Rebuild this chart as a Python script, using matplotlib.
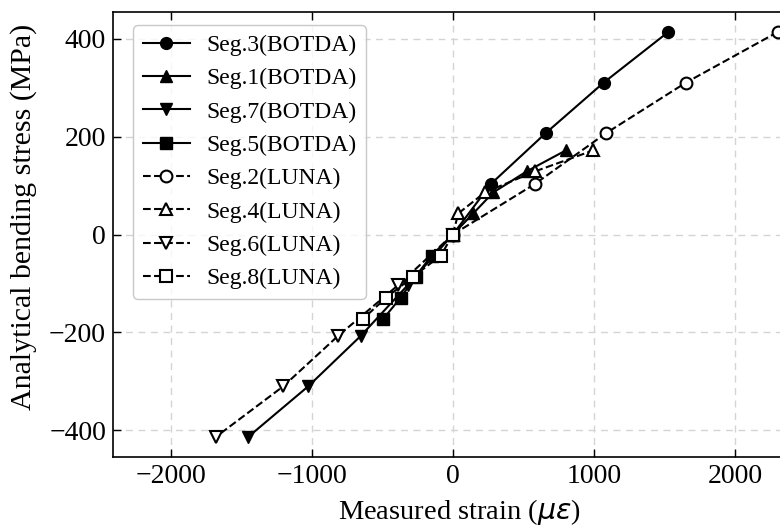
import matplotlib
matplotlib.use('Agg')
import matplotlib.pyplot as plt

plt.rcParams['font.family'] = ['Liberation Serif', 'DejaVu Serif']
plt.rcParams['mathtext.fontset'] = 'dejavusans'

# strain (micro-strain) / stress (MPa)
seg3_x = [0, 270, 657, 1069, 1527]
seg3_y = [0, 103.5, 207, 310.5, 414]
seg1_x = [0, 144, 286, 523, 801]
seg1_y = [0, 43, 86, 129, 172]
seg7_x = [0, -320, -652, -1026, -1452]
seg7_y = [0, -103.5, -207, -310.5, -414]
seg5_x = [0, -151, -265, -370, -492]
seg5_y = [0, -43, -86, -129, -172]
seg2_x = [0, 582, 1085, 1652, 2303]
seg2_y = [0, 103.5, 207, 310.5, 414]
seg4_x = [0, 38, 227, 582, 995]
seg4_y = [0, 43, 86, 129, 172]
seg6_x = [0, -388, -813, -1203, -1681]
seg6_y = [0, -103.5, -207, -310.5, -414]
seg8_x = [0, -85, -281, -472, -636]
seg8_y = [0, -43, -86, -129, -172]

fig = plt.figure(figsize=(7.8, 5.29), dpi=100)
ax = fig.add_axes([0.1449, 0.1361, 0.8877, 0.8412])

ms = 8.5
solid = dict(color='black', linestyle='-', linewidth=1.5, markersize=ms,
             markerfacecolor='black', markeredgecolor='black')
dashed = dict(color='black', linestyle='--', linewidth=1.5, markersize=ms,
              markerfacecolor='white', markeredgecolor='black', markeredgewidth=1.5)

ax.plot(seg3_x, seg3_y, marker='o', label='Seg.3(BOTDA)', **solid)
ax.plot(seg1_x, seg1_y, marker='^', label='Seg.1(BOTDA)', **solid)
ax.plot(seg7_x, seg7_y, marker='v', label='Seg.7(BOTDA)', **solid)
ax.plot(seg5_x, seg5_y, marker='s', label='Seg.5(BOTDA)', **solid)
ax.plot(seg2_x, seg2_y, marker='o', label='Seg.2(LUNA)', **dashed)
ax.plot(seg4_x, seg4_y, marker='^', label='Seg.4(LUNA)', **dashed)
ax.plot(seg6_x, seg6_y, marker='v', label='Seg.6(LUNA)', **dashed)
ax.plot(seg8_x, seg8_y, marker='s', label='Seg.8(LUNA)', **dashed)

ax.set_xlim(-2410, 2500)
ax.set_ylim(-455, 455)
ax.set_xticks([-2000, -1000, 0, 1000, 2000])
ax.set_yticks([-400, -200, 0, 200, 400])
ax.tick_params(direction='in', top=True, right=True, labelsize=20, length=6, width=1, pad=5)
ax.grid(True, linestyle=(0, (5, 4)), color='#d4d4d4', linewidth=1)
ax.set_axisbelow(True)
for s in ax.spines.values():
    s.set_linewidth(1.2)

ax.set_xlabel(r'Measured strain ($\mu\varepsilon$)', fontsize=20.5, labelpad=6)
ax.set_ylabel('Analytical bending stress (MPa)', fontsize=21.5)
ax.yaxis.set_label_coords(-0.110, 0.539)

leg = ax.legend(loc='upper left', fontsize=17, labelspacing=0.5, handlelength=2.0,
                handletextpad=0.7, bbox_to_anchor=(0.029, 0.971), borderaxespad=0.0)
leg.get_frame().set_edgecolor('#bbbbbb')

fig.savefig('out.png', dpi=100)
